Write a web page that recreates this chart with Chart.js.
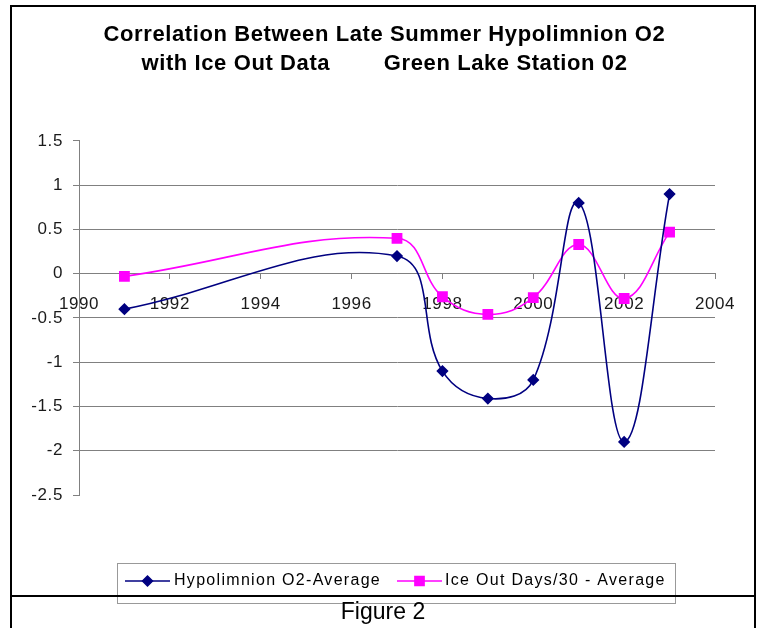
<!DOCTYPE html>
<html>
<head>
<meta charset="utf-8">
<script src="https://cdn.jsdelivr.net/npm/chart.js@4/dist/chart.umd.min.js"></script>
<style>
    body { margin: 0; width: 760px; height: 628px; overflow: hidden; background: #fff; position: relative; }
    #chart { position: absolute; left: 0; top: 0; }
    .frame { position: absolute; left: 10px; top: 5px; width: 742px; height: 640px; border: 2px solid #000; border-bottom: none; }
    .sep { position: absolute; left: 10px; top: 595px; width: 746px; height: 2px; background: #000; }
    .fig { position: absolute; left: 12px; width: 742px; top: 600px; text-align: center;
           font: 23px "Liberation Sans", Arial, sans-serif; line-height: 23px; color: #000; }
</style>
</head>
<body>
<canvas id="chart" width="760" height="628"></canvas>
<div class="frame"></div>
<div class="sep"></div>
<div class="fig">Figure 2</div>
<script>
// values
const years = [1991, 1997, 1998, 1999, 2000, 2001, 2002, 2003];
const hypoO2 = [-0.40, 0.20, -1.10, -1.41, -1.20, 0.80, -1.90, 0.90];
const iceOut = [-0.03, 0.40, -0.26, -0.46, -0.27, 0.33, -0.28, 0.47];
const seriesNames = ["Hypolimnion O2-Average", "Ice Out Days/30 - Average"];
const xTicks = [1990, 1992, 1994, 1996, 1998, 2000, 2002, 2004];
const yTicks = [1.5, 1, 0.5, 0, -0.5, -1, -1.5, -2, -2.5];
const titleLines = [
    "Correlation Between Late Summer Hypolimnion O2",
    "with Ice Out Data        Green Lake Station 02"
];

const FONT = '"Liberation Sans", Arial, sans-serif';
const GRID = "#808080";

// excel-ish wide text
const spacing = {
    id: "spacing",
    beforeUpdate(chart) { chart.ctx.letterSpacing = "0.6px"; },
    beforeDraw(chart) { chart.ctx.letterSpacing = "0.6px"; }
};

// legend with line + marker samples inside a grey box
const boxLegend = {
    id: "boxLegend",
    afterDraw(chart) {
        const ctx = chart.ctx;
        const spots = [{ x: 125, tx: 174 }, { x: 397, tx: 445 }];
        const y = 581;
        ctx.save();
        ctx.letterSpacing = "1.3px";
        ctx.fillStyle = "#fff";
        ctx.fillRect(117.5, 563.5, 558, 40);
        ctx.strokeStyle = "#999";
        ctx.lineWidth = 1;
        ctx.strokeRect(117.5, 563.5, 558, 40);
        chart.data.datasets.forEach((ds, i) => {
            const s = spots[i];
            ctx.strokeStyle = ds.borderColor;
            ctx.lineWidth = 1.5;
            ctx.beginPath();
            ctx.moveTo(s.x, y);
            ctx.lineTo(s.x + 45, y);
            ctx.stroke();
            ctx.fillStyle = ds.pointBackgroundColor;
            ctx.strokeStyle = ds.pointBorderColor;
            Chart.helpers.drawPoint(ctx, {
                pointStyle: ds.pointStyle, radius: ds.pointRadius, rotation: 0, borderWidth: 1
            }, s.x + 22.5, y);
            ctx.fillStyle = "#000";
            ctx.font = "16px " + FONT;
            ctx.textBaseline = "middle";
            ctx.textAlign = "left";
            ctx.fillText(ds.label, s.tx, y);
        });
        ctx.restore();
    }
};

new Chart(document.getElementById("chart"), {
    type: "line",
    data: {
        datasets: [{
            label: seriesNames[0],
            data: years.map((x, i) => ({ x: x, y: hypoO2[i] })),
            borderColor: "#000080",
            borderWidth: 1.6,
            pointStyle: "rectRot",
            pointRadius: 5,
            pointBackgroundColor: "#000080",
            pointBorderColor: "#000080",
            tension: 0.4
        }, {
            label: seriesNames[1],
            data: years.map((x, i) => ({ x: x, y: iceOut[i] })),
            borderColor: "#ff00ff",
            borderWidth: 1.6,
            pointStyle: "rect",
            pointRadius: 6.5,
            pointBackgroundColor: "#ff00ff",
            pointBorderColor: "#ff00ff",
            tension: 0.4
        }]
    },
    options: {
        responsive: false,
        animation: false,
        devicePixelRatio: 1,
        layout: { padding: { top: 20, left: 20, right: 11, bottom: 133 } },
        plugins: {
            legend: { display: false },
            tooltip: { enabled: false },
            title: {
                display: true,
                text: titleLines,
                color: "#000",
                font: { family: FONT, size: 22, weight: "bold", lineHeight: 1.34 },
                padding: { top: 0, bottom: 62 }
            }
        },
        scales: {
            x: {
                type: "linear",
                position: { y: 0 },
                min: 1990,
                max: 2004,
                afterBuildTicks: s => { s.ticks = xTicks.map(v => ({ value: v })); },
                ticks: {
                    color: "#1a1a1a",
                    font: { family: FONT, size: 17 },
                    padding: 15,
                    maxRotation: 0,
                    autoSkip: false,
                    callback: v => String(v)
                },
                grid: { drawOnChartArea: false, drawTicks: true, tickLength: 5, tickColor: GRID },
                border: { display: true, color: GRID, width: 1 }
            },
            y: {
                min: -2.5,
                max: 1.5,
                afterBuildTicks: s => { s.ticks = yTicks.map(v => ({ value: v })); },
                afterFit: s => { s.width = 59; },
                ticks: {
                    color: "#1a1a1a",
                    font: { family: FONT, size: 17 },
                    padding: 10,
                    callback: v => String(v)
                },
                grid: {
                    color: c => (c.tick && (c.tick.value === 1.5 || c.tick.value === -2.5)) ? "rgba(0,0,0,0)" : GRID,
                    tickColor: GRID,
                    tickLength: 6,
                    drawTicks: true
                },
                border: { display: true, color: GRID, width: 1 }
            },
            // empty spacer so the plot ends at 2004 while the title stays centred on the frame
            spacer: {
                position: "right",
                display: true,
                afterFit: s => { s.width = 34; },
                ticks: { display: false },
                grid: { display: false, drawTicks: false },
                border: { display: false }
            }
        }
    },
    plugins: [spacing, boxLegend]
});
</script>
</body>
</html>
